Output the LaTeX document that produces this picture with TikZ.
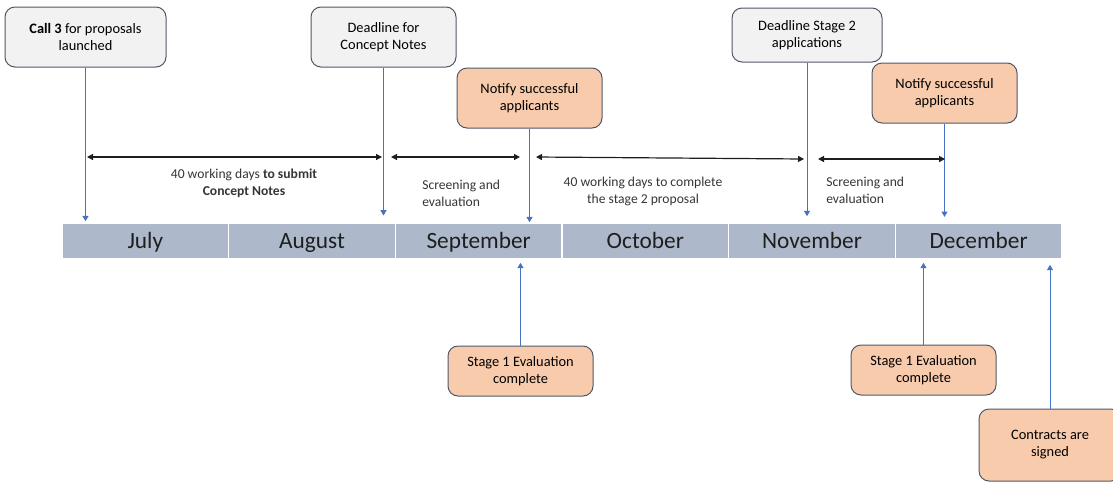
\documentclass[tikz,border=0pt]{standalone}
\usepackage{fontspec}
\setmainfont{Carlito}
\usepackage{xcolor}
\usepackage{tikz}
\usetikzlibrary{arrows.meta}
\definecolor{boxgrey}{RGB}{242,242,242}
\definecolor{boxorange}{RGB}{248,203,173}
\definecolor{boxedge}{RGB}{80,88,104}
\definecolor{barblue}{RGB}{173,185,202}
\definecolor{lineblue}{RGB}{68,114,196}
\definecolor{mydark}{RGB}{30,30,30}
\tikzset{
  greybox/.style={rectangle, draw=boxedge, fill=boxgrey, align=center, minimum width=108.75pt, minimum height=45pt, inner sep=2pt, font=\fontsize{10.8}{12.75}\selectfont, rounded corners=7.5pt, line width=0.75pt},
  orangebox/.style={greybox, fill=boxorange},
  month/.style={rectangle, fill=barblue, draw=white, line width=1.2pt, minimum width=125pt, minimum height=27pt, inner sep=0pt, text height=13.5pt, text depth=2.5pt, font=\fontsize{17.5}{20}\selectfont, text=mydark},
  spantext/.style={align=center, inner sep=0pt, font=\fontsize{10.2}{12.75}\selectfont, text=mydark!90},
  bluearrow/.style={-{Triangle[length=4pt, width=4.5pt]}, line width=0.75pt, color=lineblue},
  spanarrow/.style={{Triangle[length=4.5pt, width=4.5pt]}-{Triangle[length=4.5pt, width=4.5pt]}, line width=0.9pt, color=mydark}
}
\begin{document}
\begin{tikzpicture}[x=0.75pt, y=-0.75pt]
  \useasboundingbox (0,0) rectangle (1113,483);

  % Month bar
  \node[month] (jul) at (145.33,241) {July};
  \node[month] (aug) at (312,241) {August};
  \node[month] (sep) at (478.67,241) {September};
  \node[month] (oct) at (645.33,241) {October};
  \node[month] (nov) at (812,241) {November};
  \node[month] (dec) at (978.67,241) {December};

  % Milestones above the bar
  \node[greybox, minimum width=120.75pt] (call) at (85.5,37) {\textbf{Call 3} for proposals\\launched};
  \node[greybox] (dlnotes) at (383.5,37) {Deadline for\\Concept Notes};
  \node[orangebox] (notifya) at (529.5,98) {Notify successful\\applicants};
  \node[greybox, minimum width=112.5pt, minimum height=40.5pt] (dlstage) at (807,35) {Deadline Stage 2\\applications};
  \node[orangebox] (notifyb) at (944.5,93) {Notify successful\\applicants};

  % Milestones below the bar
  \node[orangebox, minimum height=37.5pt] (evala) at (520.5,371) {Stage 1 Evaluation\\complete};
  \node[orangebox, minimum height=37.5pt] (evalb) at (923.5,370) {Stage 1 Evaluation\\complete};
  \node[orangebox, minimum width=106.5pt, minimum height=54pt] (contracts) at (1050,445) {Contracts are\\signed};

  % Pointers to the bar
  \draw[bluearrow, shorten >=0.75pt] (call.south) -- (call.south |- jul.north);
  \draw[bluearrow, shorten >=5pt] (dlnotes.south) -- (dlnotes.south |- aug.north);
  \draw[bluearrow] (notifya.south) -- (notifya.south |- sep.north);
  \draw[bluearrow, shorten >=4.5pt] (dlstage.south) -- (dlstage.south |- nov.north);
  \draw[bluearrow, shorten >=4pt] (notifyb.south) -- (notifyb.south |- dec.north);
  \draw[bluearrow, shorten >=2.25pt] (evala.north) -- (evala.north |- sep.south);
  \draw[bluearrow, shorten >=2.25pt] (evalb.north) -- (evalb.north |- dec.south);
  \draw[bluearrow, shorten >=3.75pt] (contracts.north) -- (contracts.north |- dec.south);

  % Periods
  \coordinate (subA) at (87,157);
  \coordinate (subB) at (382,157);
  \coordinate (scrA) at (391,157);
  \coordinate (scrB) at (520,157);
  \coordinate (compA) at (536,157);
  \coordinate (compB) at (804,159);
  \coordinate (evalA) at (818,159);
  \coordinate (evalB) at (945,159);
  \draw[spanarrow] (subA) -- (subB);
  \draw[spanarrow] (scrA) -- (scrB);
  \draw[spanarrow] (compA) -- (compB);
  \draw[spanarrow] (evalA) -- (evalB);

  \node[spantext] (subtext) at (244,183.5) {40 working days \textbf{to submit}\\\textbf{Concept Notes}};
  \node[spantext, align=left, anchor=west] (scrtext) at (422,193.5) {Screening and\\evaluation};
  \node[spantext] (comptext) at (643,191.5) {40 working days to complete\\the stage 2 proposal};
  \node[spantext, align=left, anchor=west] (evaltext) at (826,190) {Screening and\\evaluation};
\end{tikzpicture}
\end{document}
